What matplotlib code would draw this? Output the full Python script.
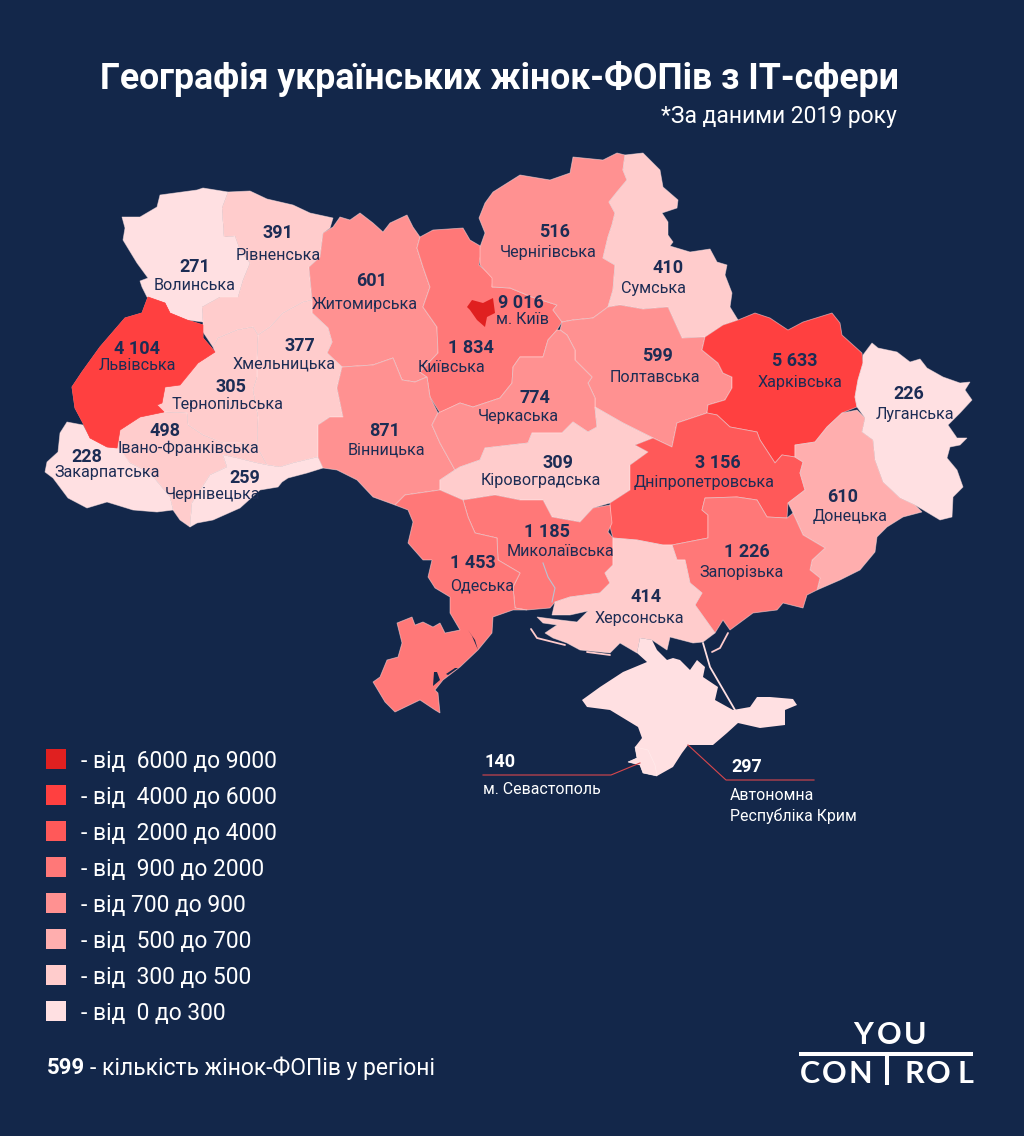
import matplotlib
matplotlib.use("Agg")
import matplotlib.pyplot as plt
from matplotlib.patches import Polygon, Rectangle

BG = "#13274A"
INK = "#1C2C54"
plt.rcParams["font.family"] = ["Roboto", "DejaVu Sans"]

# ---- data -------------------------------------------------------------
regions = ["Волинська", "Рівненська", "Житомирська", "Київська", "м. Київ", "Чернігівська",
           "Сумська", "Полтавська", "Харківська", "Луганська", "Львівська", "Хмельницька",
           "Тернопільська", "Івано-Франківська", "Закарпатська", "Чернівецька", "Вінницька",
           "Черкаська", "Кіровоградська", "Дніпропетровська", "Донецька", "Миколаївська",
           "Одеська", "Запорізька", "Херсонська"]
values = ["271", "391", "601", "1 834", "9 016", "516", "410", "599", "5 633", "226", "4 104", "377",
          "305", "498", "228", "259", "871", "774", "309", "3 156", "610", "1 185", "1 453", "1 226", "414"]
# colour class (index into legend_colors)
classes = [7, 6, 4, 3, 0, 4, 6, 4, 1, 7, 1, 6, 6, 6, 7, 7, 4, 4, 6, 2, 5, 3, 3, 3, 6]

legend_colors = ["#E02020", "#FF4040", "#FF5959", "#FF7878", "#FF9191", "#FFAEAE", "#FFCCCC", "#FFE0E2"]
legend_labels = ["- від  6000 до 9000", "- від  4000 до 6000", "- від  2000 до 4000", "- від  900 до 2000",
                 "- від 700 до 900", "- від  500 до 700", "- від  300 до 500", "- від  0 до 300"]

# label anchors (value x, y, name x, y) in picture pixels
label_pos = [(195, 267, 195, 286), (278, 233, 278, 256), (372, 281, 365, 304), (471, 348, 451, 368),
             (521, 303, 522, 319), (555, 232, 548, 253), (668, 268, 653, 288), (657, 356, 655, 377),
             (795, 361, 800, 382), (909, 394, 915, 415), (137, 349, 137, 366), (300, 346, 284, 364),
             (231, 387, 227, 405), (165, 431, 188, 448), (87, 457, 107, 473), (245, 478, 213, 495),
             (385, 431, 386, 450), (535, 398, 518, 417), (558, 463, 541, 480), (718, 463, 704, 483),
             (843, 497, 850, 517), (547, 532, 560, 551), (473, 563, 482, 586), (747, 552, 741, 573),
             (646, 597, 639, 618)]

# ---- region outlines (map geometry, picture pixels) ----------------------
shapes = {
"Волинська": [(122,217),(140,217),(157,207),(160,195),(197,190),(203,188),(228,192),(222,208),(224,237),(235,236),(240,250),(250,263),(243,280),(238,297),(220,297),(202,307),(203,322),(187,320),(170,313),(165,303),(147,297),(142,287),(140,281),(148,278),(137,263),(123,240),(125,228)],
"Рівненська": [(228,192),(250,191),(267,199),(293,205),(310,213),(333,218),(330,228),(323,233),(320,257),(309,267),(312,300),(303,302),(283,313),(270,327),(258,335),(253,327),(237,330),(218,338),(213,347),(203,332),(203,322),(202,307),(220,297),(238,297),(243,280),(250,263),(240,250),(235,236),(224,237),(222,208)],
"Львівська": [(148,297),(165,303),(170,313),(187,320),(203,325),(203,338),(215,352),(198,363),(180,385),(165,387),(162,403),(157,405),(164,412),(140,417),(120,430),(117,448),(107,447),(90,438),(83,423),(75,408),(72,387),(82,372),(100,347),(125,318),(142,313)],
"Закарпатська": [(67,422),(83,425),(90,438),(107,447),(117,448),(120,450),(130,463),(150,473),(170,497),(173,510),(157,512),(133,510),(107,502),(87,508),(68,498),(53,478),(45,472),(47,462),(58,452),(60,433)],
"Івано-Франківська": [(120,430),(140,417),(164,412),(187,413),(188,425),(203,435),(223,443),(240,443),(257,447),(267,465),(257,463),(237,458),(223,455),(227,467),(210,475),(192,503),(190,527),(180,520),(173,510),(170,497),(150,473),(130,463),(117,448)],
"Чернівецька": [(223,455),(237,458),(257,463),(267,465),(280,467),(293,463),(318,457),(323,468),(307,473),(288,478),(282,482),(278,487),(260,490),(240,508),(213,520),(197,523),(190,527),(192,503),(210,475),(227,467)],
"Тернопільська": [(178,385),(198,363),(215,352),(213,347),(218,338),(237,330),(253,327),(258,335),(257,357),(257,377),(253,390),(258,417),(257,447),(240,443),(223,443),(203,435),(188,425),(187,413),(164,412),(157,405),(162,403),(165,387)],
"Хмельницька": [(258,335),(270,327),(283,313),(303,302),(312,300),(312,313),(328,328),(332,342),(327,353),(342,367),(337,388),(343,417),(330,417),(318,425),(318,457),(293,463),(280,467),(267,465),(257,447),(258,417),(253,390),(257,377),(257,357)],
"Житомирська": [(333,227),(340,217),(350,220),(360,213),(373,223),(383,232),(390,223),(407,215),(413,227),(420,237),(417,248),(423,267),(430,287),(423,307),(437,327),(438,353),(420,372),(427,377),(415,382),(402,380),(393,358),(373,365),(342,367),(327,353),(332,342),(328,328),(312,313),(312,300),(309,267),(320,257),(323,233)],
"Вінницька": [(342,367),(373,365),(393,358),(402,380),(415,382),(427,377),(430,397),(438,413),(432,425),(440,443),(455,470),(440,480),(440,490),(405,495),(395,505),(373,497),(357,480),(337,470),(323,468),(318,457),(318,425),(330,417),(343,417),(337,388)],
"Київська": [(420,237),(433,230),(463,228),(470,240),(482,247),(479,265),(493,277),(492,287),(510,288),(532,297),(557,305),(553,310),(562,322),(557,330),(548,340),(543,357),(520,357),(513,367),(512,383),(500,398),(473,407),(460,403),(440,413),(430,397),(427,377),(420,372),(438,353),(437,327),(423,307),(430,287),(423,267),(417,248)],
"Чернігівська": [(480,247),(485,233),(479,218),(485,203),(493,192),(520,175),(550,180),(570,173),(573,157),(603,160),(617,153),(625,155),(623,170),(627,180),(617,192),(609,202),(615,213),(612,225),(608,237),(603,258),(615,265),(613,290),(608,307),(593,318),(573,320),(562,322),(553,310),(557,305),(532,297),(510,288),(492,287),(492,278),(480,265)],
"Сумська": [(625,155),(643,153),(660,170),(663,187),(678,200),(677,208),(662,213),(668,222),(668,235),(673,242),(670,246),(690,252),(710,249),(717,262),(727,265),(725,275),(732,293),(730,307),(738,320),(723,325),(705,337),(682,338),(677,327),(668,307),(643,309),(620,305),(608,307),(613,290),(615,265),(603,258),(608,237),(612,225),(615,213),(609,202),(617,192),(627,180),(623,170)],
"Полтавська": [(562,322),(573,320),(593,318),(608,307),(620,305),(643,309),(668,307),(677,327),(682,338),(705,337),(702,350),(718,363),(723,373),(732,377),(732,388),(725,400),(708,405),(707,413),(677,423),(672,447),(653,438),(623,423),(595,407),(595,398),(588,383),(592,377),(575,360),(575,350),(567,335),(560,330)],
"Харківська": [(705,337),(723,325),(738,320),(755,313),(770,318),(788,330),(803,322),(832,313),(840,323),(842,335),(862,353),(863,363),(858,380),(855,397),(857,407),(842,413),(827,427),(815,442),(795,445),(795,457),(782,455),(775,463),(760,440),(757,432),(730,427),(717,415),(707,413),(708,405),(725,400),(732,388),(732,377),(723,373),(718,363),(702,350)],
"Луганська": [(863,355),(872,343),(878,348),(897,352),(910,362),(920,359),(927,368),(943,377),(960,383),(970,382),(965,390),(972,400),(960,413),(948,425),(957,438),(967,438),(960,445),(950,447),(947,458),(957,470),(963,487),(953,497),(952,517),(940,520),(915,505),(900,498),(883,482),(875,460),(873,440),(862,432),(865,418),(857,407),(855,397),(858,380),(863,363)],
"Донецька": [(842,413),(857,410),(865,418),(862,432),(873,440),(875,460),(883,482),(900,498),(915,505),(922,512),(903,517),(887,527),(877,537),(875,552),(860,570),(840,580),(817,590),(820,578),(810,570),(812,560),(825,548),(803,535),(793,513),(788,503),(805,490),(800,473),(803,462),(795,457),(795,445),(815,442),(827,427)],
"Дніпропетровська": [(672,447),(677,423),(707,413),(717,415),(730,427),(757,432),(760,440),(775,463),(782,455),(795,457),(803,462),(800,473),(805,490),(788,503),(787,518),(767,517),(757,500),(737,497),(705,498),(702,510),(708,515),(708,538),(672,545),(663,545),(637,540),(613,538),(610,527),(610,503),(630,490),(630,465),(648,452),(635,445),(653,438)],
"Запорізька": [(705,498),(737,497),(757,500),(767,517),(787,518),(793,513),(803,535),(825,548),(812,560),(810,570),(820,578),(817,590),(807,595),(803,608),(783,603),(777,610),(753,613),(730,630),(723,620),(715,633),(695,605),(702,593),(690,583),(685,560),(677,560),(672,545),(708,538),(708,515),(702,510)],
"Кіровоградська": [(455,470),(440,480),(440,490),(463,500),(495,495),(520,500),(543,500),(552,517),(580,522),(593,508),(610,503),(630,490),(630,465),(648,452),(635,445),(653,438),(623,423),(595,407),(597,427),(588,432),(573,422),(562,433),(532,433),(528,443),(485,448),(480,460),(460,467)],
"Черкаська": [(557,330),(560,330),(567,335),(575,350),(575,360),(592,377),(588,383),(595,398),(595,407),(597,427),(588,432),(573,422),(562,433),(532,433),(528,443),(485,448),(480,460),(460,467),(455,470),(440,443),(432,425),(438,413),(460,403),(473,407),(500,398),(512,383),(513,367),(520,357),(543,357),(548,340)],
"Миколаївська": [(463,500),(495,495),(520,500),(543,500),(552,517),(580,522),(593,508),(610,505),(612,523),(608,532),(613,538),(613,565),(605,573),(610,583),(600,593),(570,597),(555,602),(550,608),(527,610),(515,608),(513,587),(520,573),(498,560),(497,538),(475,533),(468,517)],
"Одеська": [(395,505),(405,495),(440,490),(463,500),(468,517),(475,533),(497,538),(498,560),(520,573),(513,587),(515,608),(527,610),(513,610),(493,617),(492,633),(478,650),(460,667),(443,680),(435,690),(438,693),(440,713),(435,710),(420,700),(395,712),(385,702),(373,682),(380,677),(387,660),(398,657),(402,643),(397,623),(412,617),(415,625),(423,622),(433,627),(440,623),(445,633),(460,630),(450,613),(450,597),(435,588),(428,577),(432,560),(423,560),(408,543),(413,522),(408,510)],
"Херсонська": [(613,538),(637,540),(663,545),(672,545),(677,560),(685,560),(690,583),(702,593),(695,605),(715,633),(703,642),(693,643),(670,637),(667,650),(652,640),(640,638),(637,653),(620,643),(610,653),(580,650),(567,643),(553,638),(545,633),(557,625),(543,623),(537,617),(560,620),(577,622),(588,611),(570,615),(552,615),(555,602),(570,597),(600,593),(610,583),(605,573),(613,565)],
}
crimea = [(640,638),(637,653),(647,662),(623,672),(600,687),(582,700),(587,707),(610,710),(638,727),(642,738),(635,747),(637,758),(628,762),(640,765),(643,773),(657,776),(673,767),(682,753),(688,745),(713,745),(727,733),(738,723),(760,728),(785,725),(785,710),(797,705),(793,699),(770,697),(757,697),(750,707),(733,710),(715,700),(718,687),(703,677),(705,667),(697,660),(690,670),(680,660),(673,658),(667,660),(657,650),(652,640)]
sevastopol = [(635,747),(648,750),(655,765),(657,776),(643,773),(640,765),(628,762),(637,758)]
water = [[(468,630),(475,640),(478,650),(472,636)], [(434,672),(433,686),(440,680),(437,672)], [(448,675),(458,668),(455,668),(446,674)]]
spits = [([(703,643),(710,667),(735,710)], "#FFE0E2"), ([(712,652),(720,648),(728,633)], "#FFCCCC"),
         ([(531,629),(537,638),(565,645)], "#FFCCCC"), ([(587,652),(610,655)], "#FFCCCC")]

# ---- figure ------------------------------------------------------------
fig = plt.figure(figsize=(10.24, 11.36), dpi=100, facecolor=BG)
ax = fig.add_axes([0, 0, 1, 1])
ax.set_xlim(0, 1024)
ax.set_ylim(1136, 0)
ax.axis("off")

EDGE = (1.0, 0.9, 0.9, 0.55)
for name, cls in zip(regions, classes):
    if name in shapes:
        ax.add_patch(Polygon(shapes[name], closed=True, fc=legend_colors[cls], ec=EDGE, lw=0.6, zorder=2))
ax.add_patch(Polygon(shapes["Львівська"], closed=True, fc=legend_colors[1], ec=legend_colors[1], lw=0.5, zorder=3))
kyiv_city = [(467,307),(472,300),(483,303),(493,298),(495,313),(487,317),(485,327),(477,320),(470,310)]
ax.add_patch(Polygon(kyiv_city, closed=True, fc=legend_colors[0], ec="none", zorder=3))
ax.add_patch(Polygon(crimea, closed=True, fc=legend_colors[7], ec="none", zorder=2))
ax.add_patch(Polygon(sevastopol, closed=True, fc=legend_colors[7], ec=(1, 0.93, 0.93, 0.8), lw=0.5, zorder=3))
for w in water:
    ax.add_patch(Polygon(w, closed=True, fc=BG, ec="none", zorder=4))
for pts, col in spits:
    ax.plot([p[0] for p in pts], [p[1] for p in pts], color=col, lw=1.3, zorder=3, solid_capstyle="round")
ax.plot([543, 548, 555, 552], [563, 577, 588, 602], color="#B9C3D3", lw=0.8, zorder=4)

for name, val, (vx, vy, nx, ny) in zip(regions, values, label_pos):
    ax.text(vx, vy, val, fontsize=13, fontweight="bold", color=INK, ha="center", va="center", zorder=6)
    ax.text(nx, ny, name, fontsize=11.6, color=INK, ha="center", va="center", zorder=6)

# title
ax.text(499, 79, "Географія українських жінок-ФОПів з ІТ-сфери", fontsize=25.65, fontweight="bold",
        color="white", ha="center", va="center")
ax.text(897, 116, "*За даними 2019 року", fontsize=16.5, color="white", ha="right", va="center")

# Crimea callouts
line_col = "#D9474C"
ax.plot([483, 611, 640], [775, 775, 763], color=line_col, lw=0.8, zorder=5)
ax.plot([688, 726, 814], [745, 780, 780], color=line_col, lw=0.8, zorder=5)
ax.text(484, 762, "140", fontsize=13, fontweight="bold", color="white", va="center")
ax.text(483, 789, "м. Севастополь", fontsize=11.4, color="white", va="center")
ax.text(731, 767, "297", fontsize=13, fontweight="bold", color="white", va="center")
ax.text(730, 796, "Автономна", fontsize=11.4, color="white", va="center")
ax.text(730, 816, "Республіка Крим", fontsize=11.4, color="white", va="center")

# legend
for i, (col, lab) in enumerate(zip(legend_colors, legend_labels)):
    y = 749 + 36 * i
    ax.add_patch(Rectangle((46, y), 20, 20, fc=col, ec="none"))
    ax.text(81, y + 13, lab, fontsize=16.5, color="white", va="center")

ax.text(47, 1068, "599", fontsize=16, fontweight="bold", color="white", va="center")
ax.text(90, 1068, "- кількість жінок-ФОПів у регіоні", fontsize=16.5, color="white", va="center")

# logo
for ch, x in zip("YOU", [863, 889, 915]):
    ax.text(x, 1035, ch, fontsize=22, fontweight="bold", family="Lato", color="white", ha="center", va="center")
ax.plot([799, 973], [1054, 1054], color="white", lw=2.9, solid_capstyle="butt")
ax.plot([887, 887], [1054, 1085], color="white", lw=2.9, solid_capstyle="butt")
for ch, x in zip("CONROL", [810, 834, 860, 914, 938, 965]):
    ax.text(x, 1074, ch, fontsize=22, fontweight="bold", family="Lato", color="white", ha="center", va="center")

fig.savefig("out.png", dpi=100, facecolor=BG)
